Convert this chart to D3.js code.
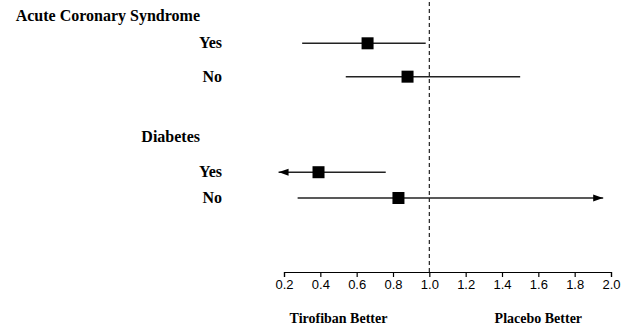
<!DOCTYPE html>
<html>
<head>
<meta charset="utf-8">
<script src="https://cdn.jsdelivr.net/npm/d3@7"></script>
<style>
  body { margin: 0; background: #fff; }
</style>
</head>
<body>
<div id="chart"></div>
<script>
const groups = ['Acute Coronary Syndrome', 'Diabetes'];
const groupSlot = [0, 4];
const rowLabels = ['Yes', 'No', 'Yes', 'No'];
const rowSlot = [0.9, 2, 5.15, 6];
const estimate = [0.66, 0.88, 0.39, 0.83];
const ciLow = [0.30, 0.54, 0.17, 0.275];
const ciHigh = [0.98, 1.50, 0.76, 1.957];
const arrowLow = [false, false, true, false];
const arrowHigh = [false, false, false, true];
const tickValues = [0.2, 0.4, 0.6, 0.8, 1.0, 1.2, 1.4, 1.6, 1.8, 2.0];
const sideLabels = ['Tirofiban Better', 'Placebo Better'];
const sideAt = [0.5, 1.6];

const width = 636;
const height = 330;
const axisY = 272;
const serif = '"Liberation Serif", "DejaVu Serif", serif';
const sans = '"Liberation Sans", Arial, sans-serif';

const x = d3.scaleLinear().domain([0.2, 2.0]).range([284, 611]);
const y = d3.scaleLinear().domain([0, 6]).range([16, 198]);

const svg = d3.select('#chart')
    .append('svg')
    .attr('width', width)
    .attr('height', height);

svg.append('defs').append('marker')
    .attr('id', 'arrow')
    .attr('markerUnits', 'userSpaceOnUse')
    .attr('viewBox', '0 -4 10 8')
    .attr('refX', 10)
    .attr('refY', 0)
    .attr('markerWidth', 10)
    .attr('markerHeight', 8)
    .attr('orient', 'auto-start-reverse')
    .append('path')
    .attr('d', 'M0,-3.5L10,0L0,3.5Z')
    .attr('fill', '#000');

// dashed line at 1.0
svg.append('line')
    .attr('x1', x(1.0)).attr('x2', x(1.0))
    .attr('y1', 2).attr('y2', axisY)
    .attr('stroke', '#222')
    .attr('stroke-width', 1.2)
    .attr('stroke-dasharray', '4,3');

// group headings
svg.selectAll('.grp')
    .data(groups)
    .enter()
    .append('text')
    .attr('class', 'grp')
    .attr('x', 200)
    .attr('y', (d, i) => y(groupSlot[i]) + 5)
    .attr('text-anchor', 'end')
    .attr('font-family', serif)
    .attr('font-weight', 'bold')
    .attr('font-size', 16)
    .text(d => d);

// row labels
svg.selectAll('.row')
    .data(rowLabels)
    .enter()
    .append('text')
    .attr('class', 'row')
    .attr('x', 222)
    .attr('y', (d, i) => y(rowSlot[i]) + 5)
    .attr('text-anchor', 'end')
    .attr('font-family', serif)
    .attr('font-weight', 'bold')
    .attr('font-size', 16)
    .text(d => d);

// confidence intervals
svg.selectAll('.ci')
    .data(estimate)
    .enter()
    .append('line')
    .attr('class', 'ci')
    .attr('x1', (d, i) => x(ciLow[i]))
    .attr('x2', (d, i) => x(ciHigh[i]))
    .attr('y1', (d, i) => y(rowSlot[i]))
    .attr('y2', (d, i) => y(rowSlot[i]))
    .attr('stroke', '#222')
    .attr('stroke-width', 1.5)
    .attr('marker-start', (d, i) => arrowLow[i] ? 'url(#arrow)' : null)
    .attr('marker-end', (d, i) => arrowHigh[i] ? 'url(#arrow)' : null);

// point estimates
const sq = 12;
svg.selectAll('.pt')
    .data(estimate)
    .enter()
    .append('rect')
    .attr('class', 'pt')
    .attr('x', d => x(d) - sq / 2)
    .attr('y', (d, i) => y(rowSlot[i]) - sq / 2)
    .attr('width', sq)
    .attr('height', sq)
    .attr('fill', '#000');

// axis
const axis = svg.append('g')
    .attr('transform', `translate(0, ${axisY})`)
    .call(d3.axisBottom(x)
        .tickValues(tickValues)
        .tickFormat(d3.format('.1f'))
        .tickSize(5)
        .tickSizeOuter(5)
        .tickPadding(3));
axis.selectAll('path, line').attr('stroke', '#000').attr('stroke-width', 1.2);
axis.selectAll('text')
    .attr('font-family', sans)
    .attr('font-size', 13)
    .attr('fill', '#000');

svg.selectAll('.side')
    .data(sideLabels)
    .enter()
    .append('text')
    .attr('class', 'side')
    .attr('x', (d, i) => x(sideAt[i]))
    .attr('y', 323)
    .attr('text-anchor', 'middle')
    .attr('font-family', serif)
    .attr('font-weight', 'bold')
    .attr('font-size', 14)
    .text(d => d);
</script>
</body>
</html>
